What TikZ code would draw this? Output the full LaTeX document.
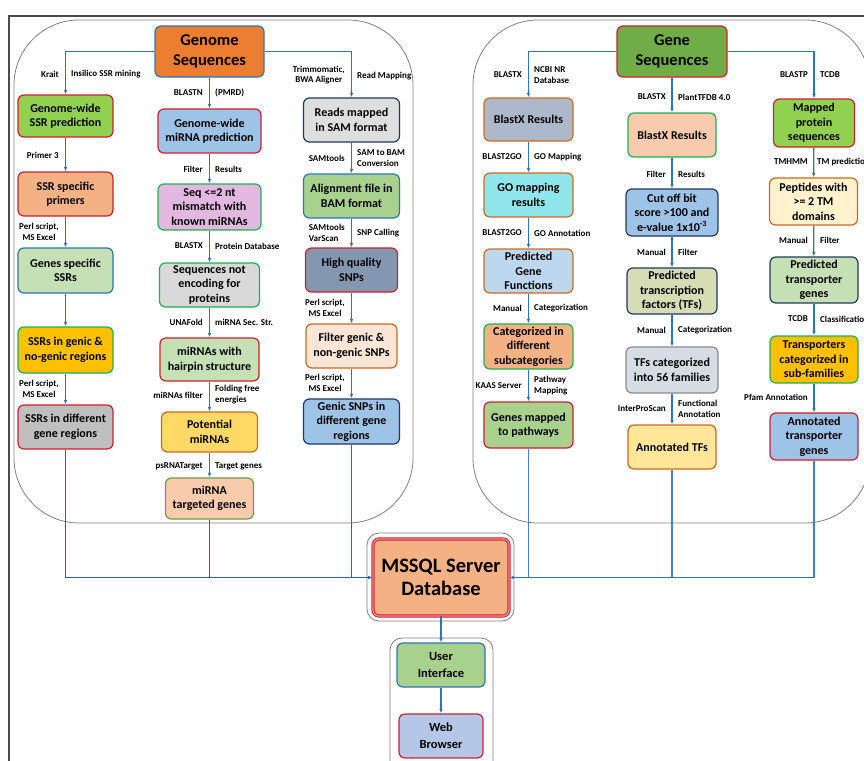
\documentclass[tikz,border=0pt]{standalone}
\usepackage{fontspec}
\setmainfont{Carlito}
\usetikzlibrary{arrows.meta}
\definecolor{lineblue}{HTML}{2E75B6}
\definecolor{darkline}{HTML}{2F5FB0}
\definecolor{rightline}{HTML}{4A7FD0}
\definecolor{bred}{HTML}{D0202E}
\definecolor{bgreen}{HTML}{1FB050}
\definecolor{bblue}{HTML}{2E75B6}
\definecolor{bdblue}{HTML}{203864}
\definecolor{borange}{HTML}{D0691E}
\definecolor{bolive}{HTML}{6E9A45}
\definecolor{bgray}{HTML}{8A8A8A}
\definecolor{panelgray}{HTML}{808080}
\definecolor{cOrange}{HTML}{ED7D31}
\definecolor{cLime}{HTML}{92D050}
\definecolor{cPeach}{HTML}{F4B183}
\definecolor{cLtGreen}{HTML}{C5E0B4}
\definecolor{cGold}{HTML}{FFC000}
\definecolor{cGray}{HTML}{BFBFBF}
\definecolor{cSky}{HTML}{9DC3E6}
\definecolor{cLav}{HTML}{E2B8E0}
\definecolor{cLtGray}{HTML}{D9D9D9}
\definecolor{cYellow}{HTML}{FFD966}
\definecolor{cSalmon}{HTML}{F8CBAD}
\definecolor{cGrayB}{HTML}{DEDEDE}
\definecolor{cGreenB}{HTML}{A9D18E}
\definecolor{cSlate}{HTML}{8497B0}
\definecolor{cCream}{HTML}{FBE5D6}
\definecolor{cGreen}{HTML}{70AD47}
\definecolor{cBlueGray}{HTML}{ADB9CA}
\definecolor{cCyan}{HTML}{8FE6EA}
\definecolor{cPale}{HTML}{BDD7EE}
\definecolor{cOlive}{HTML}{D6DCB4}
\definecolor{cBlueGrayB}{HTML}{D6DCE4}
\definecolor{cLtYellow}{HTML}{FFE699}
\definecolor{cIvory}{HTML}{FFF2CC}
\definecolor{cPeri}{HTML}{B4C7E7}
\definecolor{cDbl}{HTML}{F08A8A}
\begin{document}
\begin{tikzpicture}[x=1pt,y=-1pt,
  box/.style={draw, rounded corners=6pt, line width=1.2pt, align=center, inner sep=1pt,
    font=\fontsize{12}{14.5}\selectfont\bfseries, text=black},
  bigbox/.style={box, font=\fontsize{16.5}{20}\selectfont\bfseries},
  lab/.style={font=\fontsize{9}{10.8}\selectfont\bfseries, inner sep=0pt, align=center},
  labl/.style={lab, anchor=east},
  labr/.style={lab, anchor=west},
  tip/.style={-{Latex[length=4.5pt,width=3.6pt]}},
  arr/.style={draw=lineblue, line width=1.3pt, tip},
  conn/.style={draw=darkline, line width=1.6pt},
  connr/.style={draw=rightline, line width=1.5pt},
  panel/.style={draw=panelgray, line width=0.8pt}]
\useasboundingbox (0,0) rectangle (864,760);
\clip (0,0) rectangle (864,760);
\fill[white] (0,0) rectangle (864,760);
% frame and panels
\draw[draw=black!70, line width=1.2pt] (9,780) -- (9,16) -- (880,16);
\draw[panel, rounded corners=65pt] (14,20) rectangle (413,523);
\draw[panel, rounded corners=65pt] (473,20) rectangle (870,523);
\draw[panel, rounded corners=12pt] (367,533) rectangle (514,621);
\draw[panel, rounded corners=12pt] (390,638) rectangle (493,790);

% ---------- left panel ----------
\node[bigbox, fill=cOrange, draw=bblue, minimum width=109pt, minimum height=51pt] (gs) at (209.5,51.5) {Genome\\Sequences};

\node[box, fill=cLime, draw=bred, minimum width=95pt, minimum height=42pt] (ssr1) at (65.5,116) {Genome-wide\\SSR prediction};
\node[box, fill=cPeach, draw=bred, minimum width=95pt, minimum height=44pt] (ssr2) at (65.5,194) {SSR specific\\primers};
\node[box, fill=cLtGreen, draw=bblue, minimum width=95pt, minimum height=45pt] (ssr3) at (65.5,270.5) {Genes specific\\SSRs};
\node[box, fill=cGold, draw=bgreen, minimum width=95pt, minimum height=46pt] (ssr4) at (65.5,350) {SSRs in genic \&\\no-genic regions};
\node[box, fill=cGray, draw=bred, minimum width=95pt, minimum height=44pt] (ssr5) at (65.5,427) {SSRs in different\\gene regions};

\node[box, fill=cSky, draw=bred, minimum width=103pt, minimum height=44pt] (mi1) at (209.5,131) {Genome-wide\\miRNA prediction};
\node[box, fill=cLav, draw=bgreen, minimum width=103pt, minimum height=46pt] (mi2) at (209.5,207) {Seq <=2 nt\\mismatch with\\known miRNAs};
\node[box, fill=cLtGray, draw=bgreen, minimum width=100pt, minimum height=44pt] (mi3) at (209.5,285) {Sequences not\\encoding for\\proteins};
\node[box, fill=cLtGreen, draw=bred, minimum width=99pt, minimum height=43pt] (mi4) at (209.5,359.5) {miRNAs with\\hairpin structure};
\node[box, fill=cYellow, draw=borange, minimum width=96pt, minimum height=40pt] (mi5) at (209.5,432) {Potential\\miRNAs};
\node[box, fill=cSalmon, draw=bolive, minimum width=88pt, minimum height=41pt] (mi6) at (209.5,498.5) {miRNA\\targeted genes};

\node[box, fill=cGrayB, draw=bdblue, minimum width=96pt, minimum height=44pt] (sn1) at (351.5,120) {Reads mapped\\in SAM format};
\node[box, fill=cGreenB, draw=bblue, minimum width=96pt, minimum height=44pt] (sn2) at (351.5,196) {Alignment file in\\BAM format};
\node[box, fill=cSlate, draw=bred, minimum width=92pt, minimum height=44pt] (sn3) at (351.5,270) {High quality\\SNPs};
\node[box, fill=cCream, draw=borange, minimum width=91pt, minimum height=44pt] (sn4) at (351.5,346) {Filter genic \&\\non-genic SNPs};
\node[box, fill=cSky, draw=bdblue, minimum width=96pt, minimum height=45pt] (sn5) at (351.5,421.5) {Genic SNPs in\\different gene\\regions};

% ---------- right panel ----------
\node[bigbox, fill=cGreen, draw=bred, minimum width=110pt, minimum height=51pt] (gene) at (672,51.5) {Gene\\Sequences};

\node[box, fill=cBlueGray, draw=borange, minimum width=89pt, minimum height=43pt] (bx1) at (528.5,119.5) {BlastX Results};
\node[box, fill=cCyan, draw=borange, minimum width=89pt, minimum height=44pt] (go1) at (528.5,195) {GO mapping\\results};
\node[box, fill=cPale, draw=borange, minimum width=89pt, minimum height=44pt] (go2) at (528.5,271) {Predicted\\Gene\\Functions};
\node[box, fill=cPeach, draw=bgreen, minimum width=89pt, minimum height=45pt] (go3) at (528.5,346.5) {Categorized in\\different\\subcategories};
\node[box, fill=cGreenB, draw=bred, minimum width=89pt, minimum height=46pt] (go4) at (528.5,425) {Genes mapped\\to pathways};

\node[box, fill=cSalmon, draw=bgreen, minimum width=88pt, minimum height=44pt] (tf1) at (672,135) {BlastX Results};
\node[box, fill=cSky, draw=bdblue, minimum width=92pt, minimum height=47pt] (tf2) at (672,212.5) {Cut off bit\\score >100 and\\e-value 1x10\textsuperscript{-3}};
\node[box, fill=cOlive, draw=bdblue, minimum width=90pt, minimum height=46pt] (tf3) at (672,291) {Predicted\\transcription\\factors (TFs)};
\node[box, fill=cBlueGrayB, draw=bgray, minimum width=92pt, minimum height=46pt] (tf4) at (672,370) {TFs categorized\\into 56 families};
\node[box, fill=cLtYellow, draw=borange, minimum width=88pt, minimum height=44pt] (tf5) at (672,447) {Annotated TFs};

\node[box, fill=cLime, draw=bred, minimum width=81pt, minimum height=48pt] (tp1) at (814,123) {Mapped\\protein\\sequences};
\node[box, fill=cIvory, draw=borange, minimum width=88pt, minimum height=47pt] (tp2) at (813.5,201.5) {Peptides with\\>= 2 TM\\domains};
\node[box, fill=cLtGreen, draw=bdblue, minimum width=88pt, minimum height=46pt] (tp3) at (814,280) {Predicted\\transporter\\genes};
\node[box, fill=cGold, draw=bgreen, minimum width=88pt, minimum height=47pt] (tp4) at (814,359.5) {Transporters\\categorized in\\sub-families};
\node[box, fill=cSky, draw=bred, minimum width=88pt, minimum height=47pt] (tp5) at (814,436.5) {Annotated\\transporter\\genes};

% ---------- database and interface ----------
\node[box, fill=cPeach, draw=bred, line width=0.9pt, double=cDbl, double distance=1.4pt,
  minimum width=136pt, minimum height=77pt, font=\fontsize{20.5}{23.5}\selectfont\bfseries] (db) at (441,577.5) {MSSQL Server\\Database};
\node[box, fill=cGreenB, draw=bblue, minimum width=88pt, minimum height=44pt, font=\fontsize{12.5}{17}\selectfont\bfseries] (ui) at (441,665) {User\\Interface};
\node[box, fill=cPeri, draw=bred, minimum width=84pt, minimum height=44pt, font=\fontsize{12.5}{17}\selectfont\bfseries] (wb) at (441,736) {Web\\Browser};

% ---------- connectors ----------
\draw[arr] (gs.west) -| (ssr1.north);
\draw[arr] (gs) -- (mi1);
\draw[arr] (gs.east) -| (sn1.north);
\draw[arr] (ssr1) -- (ssr2);
\draw[arr] (ssr2) -- (ssr3);
\draw[arr] (ssr3) -- (ssr4);
\draw[arr] (ssr4) -- (ssr5);
\draw[arr] (mi1) -- (mi2);
\draw[arr] (mi2) -- (mi3);
\draw[arr] (mi3) -- (mi4);
\draw[arr] (mi4) -- (mi5);
\draw[arr] (mi5) -- (mi6);
\draw[arr] (sn1) -- (sn2);
\draw[arr] (sn2) -- (sn3);
\draw[arr] (sn3) -- (sn4);
\draw[arr] (sn4) -- (sn5);

\draw[arr] (gene.west) -| (bx1.north);
\draw[arr] (gene) -- (tf1);
\draw[arr] (gene.east) -| (tp1.north);
\draw[arr] (bx1) -- (go1);
\draw[arr] (go1) -- (go2);
\draw[arr] (go2) -- (go3);
\draw[arr] (go3) -- (go4);
\draw[arr] (tf1) -- (tf2);
\draw[arr] (tf2) -- (tf3);
\draw[arr] (tf3) -- (tf4);
\draw[arr] (tf4) -- (tf5);
\draw[arr] (tp1) -- (tp2);
\draw[arr] (tp2) -- (tp3);
\draw[arr] (tp3) -- (tp4);
\draw[arr] (tp4) -- (tp5);

\draw[conn] (mi6) -- (mi6 |- db.west);
\draw[conn] (sn5) -- (sn5 |- db.west);
\draw[conn, tip] (ssr5) |- (db.west);
\draw[connr] (go4) -- (go4 |- db.east);
\draw[connr] (tf5) -- (tf5 |- db.east);
\draw[connr] (tp5) -- (tp5 |- db.east);
\draw[draw=lineblue, line width=1.5pt, tip] (tp5 |- db.east) -- (db.east);
\draw[arr] (db) -- (ui);
\draw[arr] (ui) -- (wb);

% ---------- labels: left panel ----------
\node[labl] (a1) at (59,74) {Krait};
\node[labr] (a2) at (71,74) {Insilico SSR mining};
\node[labl] (a3) at (59,155) {Primer 3};
\node[labl] (a4) at (59,232) {Perl script,\\MS Excel};
\node[labl] (a5) at (59,389) {Perl script,\\MS Excel};

\node[labl] (b1) at (203,93) {BLASTN};
\node[labr] (b2) at (215,93) {(PMRD)};
\node[labl] (b3) at (203,169) {Filter};
\node[labr] (b4) at (215,169) {Results};
\node[labl] (b5) at (203,246) {BLASTX};
\node[labr] (b6) at (215,246) {Protein Database};
\node[labl] (b7) at (203,322) {UNAFold};
\node[labr] (b8) at (215,322) {miRNA Sec. Str.};
\node[labl] (b9) at (203,395) {miRNAs filter};
\node[labr, align=left] (b10) at (215,395) {Folding free\\energies};
\node[labl] (b11) at (203,466) {psRNATarget};
\node[labr] (b12) at (215,466) {Target genes};

\node[labl] (c1) at (345,75) {Trimmomatic,\\BWA Aligner};
\node[labr] (c2) at (357,76) {Read Mapping};
\node[labl] (c3) at (345,158) {SAMtools};
\node[labr, align=left] (c4) at (357,158) {SAM to BAM\\Conversion};
\node[labl, align=left] (c5) at (345,233) {SAMtools\\VarScan};
\node[labr] (c6) at (357,233) {SNP Calling};
\node[labl] (c7) at (345,308) {Perl script,\\MS Excel};
\node[labl] (c8) at (345,383) {Perl script,\\MS Excel};

% ---------- labels: right panel ----------
\node[labl] (d1) at (522,75) {BLASTX};
\node[labr, align=left] (d2) at (534,75) {NCBI NR\\Database};
\node[labl] (d3) at (522,157) {BLAST2GO};
\node[labr] (d4) at (534,157) {GO Mapping};
\node[labl] (d5) at (522,233) {BLAST2GO};
\node[labr] (d6) at (534,233) {GO Annotation};
\node[labl] (d7) at (522,308) {Manual};
\node[labr] (d8) at (534,308) {Categorization};
\node[labl] (d9) at (522,386) {KAAS Server};
\node[labr, align=left] (d10) at (534,386) {Pathway\\Mapping};

\node[labl] (e1) at (666,97) {BLASTX};
\node[labr] (e2) at (678,97) {PlantTFDB 4.0};
\node[labl] (e3) at (666,174) {Filter};
\node[labr] (e4) at (678,174) {Results};
\node[labl] (e5) at (666,252) {Manual};
\node[labr] (e6) at (678,252) {Filter};
\node[labl] (e7) at (666,330) {Manual};
\node[labr] (e8) at (678,330) {Categorization};
\node[labl] (e9) at (666,409) {InterProScan};
\node[labr, align=left] (e10) at (678,409) {Functional\\Annotation};

\node[labl] (f1) at (808,75) {BLASTP};
\node[labr] (f2) at (820,75) {TCDB};
\node[labl] (f3) at (808,162) {TMHMM};
\node[labr] (f4) at (817,162) {TM\ prediction};
\node[labl] (f5) at (808,240) {Manual};
\node[labr] (f6) at (820,240) {Filter};
\node[labl] (f7) at (808,319) {TCDB};
\node[labr] (f8) at (820,319) {Classification};
\node[labl] (f9) at (808,397) {Pfam Annotation};
\end{tikzpicture}
\end{document}
